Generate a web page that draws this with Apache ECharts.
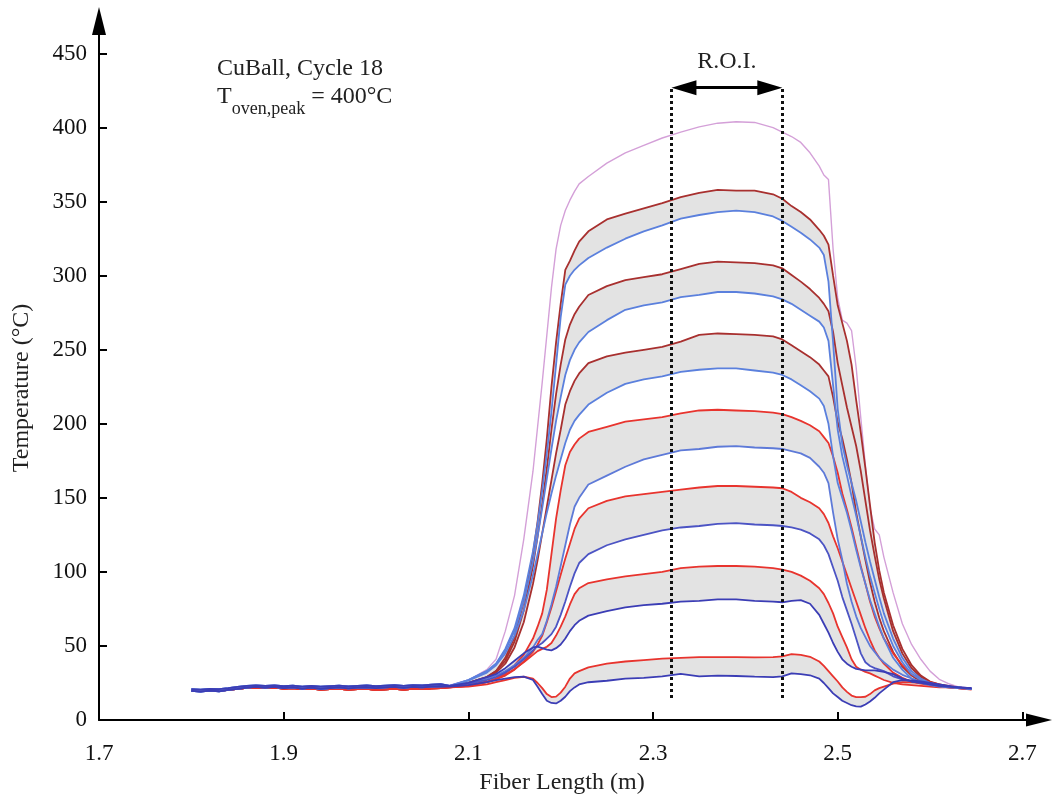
<!DOCTYPE html>
<html><head><meta charset="utf-8">
<script src="https://cdn.jsdelivr.net/npm/echarts@6/dist/echarts.min.js"></script>
<style>html,body{margin:0;padding:0;background:#fff}#c{width:1055px;height:798px}</style>
</head><body><div id="c"></div>
<script>
const FONT = '"Liberation Serif","Times New Roman",serif';
const X_TICKS = [1.7, 1.9, 2.1, 2.3, 2.5, 2.7];
const Y_TICKS = [0, 50, 100, 150, 200, 250, 300, 350, 400, 450];

// flat part before the oven (shared by all traces)
const BASE_X = [1.80,1.81,1.82,1.83,1.84,1.85,1.86,1.87,1.88,1.89,1.90,1.91,1.92,1.93,1.94,1.95,1.96,1.97,1.98,1.99,2.00,2.01,2.02,2.03,2.04,2.05,2.06,2.07];
const BLUE_BASE_A = [19.6,19.2,19.9,19.4,20.3,21.0,21.9,22.4,21.8,22.3,21.5,22.0,21.2,21.8,21.1,21.6,22.0,21.3,21.9,22.1,21.5,22.0,22.3,21.7,22.4,22.0,22.6,22.8];
const BLUE_BASE_B = [20.8,20.5,21.0,20.9,21.5,22.3,23.0,23.4,23.1,23.3,22.8,23.2,22.6,23.0,22.5,22.9,23.2,22.7,23.1,23.3,22.8,23.2,23.5,23.0,23.6,23.3,23.8,24.2];
const RED_BASE = [19.8,19.6,20.0,19.7,20.4,21.0,21.7,22.0,21.6,21.9,21.2,21.5,20.9,21.2,20.6,20.9,21.0,20.5,20.8,21.0,20.4,20.7,21.0,20.6,21.1,20.9,21.3,21.6];

// heated part
const X = [2.08,2.10,2.12,2.13,2.14,2.15,2.16,2.17,2.175,2.18,2.185,2.19,2.195,2.20,2.205,2.21,2.215,2.22,2.23,
  2.25,2.27,2.29,2.31,2.33,2.35,2.37,2.39,2.41,2.43,2.44,2.45,2.46,2.47,2.48,
  2.485,2.49,2.495,2.50,2.505,2.51,2.515,2.52,2.525,2.53,2.535,2.54,2.545,2.55,2.56,2.57,2.58,2.59,2.60,2.61,2.62,2.63,2.645];

const OVEN = [23.5,27,34,41,60,84,122,168,198,228,260,292,318,334,344,351,357,362,367,
  376,383,388,393,397,400.5,403,404,403.5,400,397,394,390,383,374,
  368,365,318,285,270,268,263,238,204,172,143,129,125,110,86,65,51,41,33,27.5,24.5,22.5,21.5];

const RED_1 = [22.5,25,29,33,42,56,80,112,134,160,190,225,255,281,304,310,317,323,330,
  338,342,345.5,349,353,356,358,357.5,357.5,355,352,347,343,338,331,
  327,321,300,280,268,256,240,216,194,170,145,120,101,86,64,48,37,30,26,24,23,22,21];
const BLUE_1 = [23,27,33,38,48,62,84,114,133,155,180,208,240,272,294,300,304,307,312,
  319,325,330,334,338.5,341,343,344,343,340,337,333,329,324.5,319,
  314,296,255,210,186,172,160,148,134,120,107,95,83,72,55,42,33,28,25,23.5,22.5,22,21];
const RED_2 = [22.5,25,29,33,40,53,74,104,124,146,170,196,220,240,257,267,274,279,287,
  293,297,299,301,304.5,308,309.5,309,308.5,307,305,300.5,296,291,285,
  281,276,262,241,226,211,198,185,168,148,128,111,95,82,60,45,35,29,25.5,23.5,22.5,22,21];
const BLUE_2 = [23,27,33,38,47,60,80,107,124,143,163,183,202,218,233,243,250,255,262,
  270,277,280,282,285.5,287,289,289,288,286,284,281,277,273,269,
  265,256,226,196,178,165,151,138,124,110,97,86,75,65,50,39,31,27,24.5,23,22.5,22,21];
const RED_3 = [22.5,24.5,28,32,38,49,66,92,108,126,144,162,180,196,213,222,229,234,241,
  245.5,248,250,252,255.5,260,261,260.5,260,259,257,253,249,245,240,
  236,232,218,201,190,176,160,140,124,108,93,80,69,60,46,36,30,26,24,23,22,21.5,21];
const BLUE_3 = [23,26.5,32,37,45,57,74,98,112,126,140,153,165,176,187,196,202,206,213,
  221,227,230,232,235,236.5,237.5,237.5,236,234.5,233,230,226,222,217,
  212,200,178,160,150,140,128,115,103,92,81,72,63,55,42,34,28,25,23.5,22.5,22,21.5,21];
const RED_4 = [22,23.5,26,28,31.5,37,44,55,63,72,88,112,136,155,172,181,186,190,194.5,
  198,201.5,203,204.5,207,209,209.5,209,208.5,207.5,206.5,204.5,202,199,195,
  191,187,178,167,153,142,130,117,104,92,80,70,62,55,45,37,31,27.5,25.5,24,22.5,21.5,21];
const BLUE_4 = [23,25,28,30,33,37,42,49,54,58,67,78,90,104,118,132,144,150,159,
  165,171,176,179,182,183,184.5,185,184,183.5,183,181.5,180,177,171,
  167,160,140,122,108,92,80,70,62,56,50,46,42,39,34,30.5,28,26,24.5,23.5,22.5,22,21];
const RED_5 = [22,23,25.5,27.5,30,34,39.5,46,51,57,66,76,87,98,109,119,129,136,143,
  148,151,152.5,154,155.5,157,158,158,157.5,157,156.5,154,150,147,143,
  139,133,124,116,107,98,89,80,71,62,54,47,42,38,32,28.5,26,24.5,23.5,22.5,22,21.5,21];
const BLUE_5 = [23,24.5,27,29,32,36,41,47,50,52,55,58,63,71,80,90,99,106,112,
  118,122,125,128,130,131,132.5,133,132,131.5,131,130,128.5,126,122,
  118,112,103,94,83,74,65,55,45,39,36.5,35,34,33,29.5,27.5,26,25,24,23,22.5,22,21];
const RED_6 = [22,23,25.5,27.5,30.5,34.5,39,44,46.5,48,49.5,52,57,63,70,78,85,89,92.5,
  95,97,98.5,100,102.5,103.5,104,104,103.5,102.5,101.5,100,97.5,94,89,
  85,79,72,63,56,49,41,36,34,32.5,31.5,30,28.5,27,25,24,23.5,23,22.5,22,22,21.5,21];
const BLUE_6 = [23,25,29,31,35,40,45,49,49.5,48.5,47.5,47,48.5,51,55,60,64,67,70.5,
  73.5,76,77.5,78.5,80,80.5,81.5,81.5,80.5,80,79.5,80.5,81,78.5,71,
  65,59,52,46,41,38,36,34.5,34,33.5,33.5,33.5,33,32.5,31,28,26,25,24,23,22.5,22,21.5];
const RED_7 = [22,22.5,24,25.5,27,28.5,29.2,28,25,21.5,17.5,15.5,15.8,18.5,22.5,28,31.5,33,35.5,
  38,39.5,40.5,41.5,42,42.5,42.5,42.5,42.3,42.5,43,44.5,44,42.7,39.5,
  36.5,33,29.5,26,22,19,16.5,15.5,15.5,15.7,17.5,20,21.5,22.5,24.5,25.5,25.5,25,24,23.5,22.5,21.5,20.5];
const BLUE_7 = [22.5,23.5,25.5,27,28,29,29.3,27,22.5,17.5,13,11.5,11.2,13,15.7,19.5,22,24,25.5,
  26.5,28,28.5,29.5,31.2,29.5,30,29.7,29.3,29,29.5,31.5,31,30.2,28,
  25,21.5,18,15.5,13,11.5,10,9.2,9,10.5,12.5,15,18,20.5,25.5,27,26.8,26,25,24,23,22,21.5];

// region of interest
const ROI_START = 2.32, ROI_END = 2.44, ROI_BOTTOM = 14.8, ROI_TOP = 428, ROI_ARROW = 427;

const ALL_X = BASE_X.concat(X);
function pts(base, ys) { const v = base.concat(ys); return ALL_X.map((x, i) => [x, v[i]]); }

const DARK_RED = '#a8302f', RED = '#e8342e', LIGHT_BLUE = '#5b80dd', MID_BLUE = '#5e7ad8', BLUE = '#4c54c4', DARK_BLUE = '#3b3db5';
const pairs = [
  {r: RED_1, b: BLUE_1, rc: DARK_RED, bc: LIGHT_BLUE, bb: BLUE_BASE_A},
  {r: RED_2, b: BLUE_2, rc: DARK_RED, bc: LIGHT_BLUE, bb: BLUE_BASE_B},
  {r: RED_3, b: BLUE_3, rc: DARK_RED, bc: LIGHT_BLUE, bb: BLUE_BASE_A},
  {r: RED_4, b: BLUE_4, rc: RED, bc: MID_BLUE, bb: BLUE_BASE_B},
  {r: RED_5, b: BLUE_5, rc: RED, bc: BLUE, bb: BLUE_BASE_A},
  {r: RED_6, b: BLUE_6, rc: RED, bc: DARK_BLUE, bb: BLUE_BASE_B},
  {r: RED_7, b: BLUE_7, rc: RED, bc: DARK_BLUE, bb: BLUE_BASE_A}
].map(p => ({...p, rp: pts(RED_BASE, p.r), bp: pts(p.bb, p.b)}));

const series = [];
series.push({
  type: 'custom', z: 1, silent: true, animation: false,
  data: pairs.map((p, i) => [2.3, 200, i]),
  encode: {x: 0, y: 1},
  renderItem: (params, api) => {
    const p = pairs[api.value(2)];
    const top = p.rp.map(d => api.coord(d));
    const bot = p.bp.map(d => api.coord(d)).reverse();
    return {type: 'polygon', shape: {points: top.concat(bot)}, style: {fill: '#e3e3e3', stroke: null}};
  }
});
function lineSeries(data, color, w) {
  return {type: 'line', data, showSymbol: false, symbol: 'none', z: 2, silent: true, animation: false,
    lineStyle: {color, width: w}};
}
series.push(lineSeries(pts(BLUE_BASE_A, OVEN), '#d4a0d8', 1.4));
pairs.forEach(p => series.push(lineSeries(p.rp, p.rc, 1.8)));
pairs.forEach(p => series.push(lineSeries(p.bp, p.bc, 1.8)));

// ROI dotted boundaries
series.push({
  type: 'line', data: [], z: 5, silent: true, animation: false,
  markLine: {silent: true, animation: false, symbol: ['none', 'none'], label: {show: false},
    lineStyle: {color: '#111', type: 'dotted', width: 3},
    data: [
      [{coord: [ROI_START, ROI_BOTTOM]}, {coord: [ROI_START, ROI_TOP]}],
      [{coord: [ROI_END, ROI_BOTTOM]}, {coord: [ROI_END, ROI_TOP]}]
    ]}
});
// ROI double arrow
const HEAD = 0.0135;
series.push({
  type: 'line', data: [], z: 6, silent: true, animation: false,
  markLine: {silent: true, animation: false, symbol: ['triangle', 'triangle'], symbolSize: [15, 25],
    lineStyle: {color: '#000', type: 'solid', width: 3},
    label: {show: true, position: 'middle', formatter: 'R.O.I.', fontFamily: FONT, fontSize: 24, color: '#222', distance: 14},
    data: [[{coord: [ROI_START + HEAD, ROI_ARROW]}, {coord: [ROI_END - HEAD, ROI_ARROW]}]]}
});

function tw(text, size) {
  const c = document.createElement('canvas').getContext('2d');
  c.font = size + 'px "Liberation Serif"';
  return c.measureText(text).width;
}
const AX = 217, FS = 24, SUB = 18;
const wT = tw('T', FS), wSub = tw('oven,peak', SUB);

const chart = echarts.init(document.getElementById('c'), null, {renderer: 'canvas'});
chart.setOption({
  backgroundColor: '#fff',
  animation: false,
  grid: {left: 99, right: 16, top: 21, bottom: 78, containLabel: false, outerBoundsMode: 'none'},
  xAxis: {
    type: 'value', min: 1.7, max: 2.718,
    axisLine: {show: true, onZero: false, symbol: ['none', 'triangle'], symbolSize: [13, 26], lineStyle: {color: '#000', width: 2}},
    axisTick: {show: true, inside: true, length: 8, customValues: X_TICKS, lineStyle: {color: '#000', width: 2}},
    axisLabel: {customValues: X_TICKS, fontFamily: FONT, fontSize: 23, color: '#111', margin: 22, formatter: v => v.toFixed(1)},
    splitLine: {show: false}
  },
  yAxis: {
    type: 'value', min: 0, max: 472,
    axisLine: {show: true, onZero: false, symbol: ['none', 'triangle'], symbolSize: [14, 28], lineStyle: {color: '#000', width: 2}},
    axisTick: {show: true, inside: true, length: 8, customValues: Y_TICKS, lineStyle: {color: '#000', width: 2}},
    axisLabel: {customValues: Y_TICKS, fontFamily: FONT, fontSize: 23, color: '#111', margin: 12},
    splitLine: {show: false}
  },
  graphic: [
    {type: 'text', left: AX, top: 57, style: {text: 'CuBall, Cycle 18', font: FS + 'px ' + FONT, fill: '#222'}},
    {type: 'text', left: AX, top: 85, style: {text: 'T', font: FS + 'px ' + FONT, fill: '#222'}},
    {type: 'text', left: AX + wT, top: 100, style: {text: 'oven,peak', font: SUB + 'px ' + FONT, fill: '#222'}},
    {type: 'text', left: AX + wT + wSub, top: 85, style: {text: ' = 400°C', font: FS + 'px ' + FONT, fill: '#222'}},
    {type: 'text', x: 562, y: 783, style: {text: 'Fiber Length (m)', font: FS + 'px ' + FONT, fill: '#222', align: 'center', verticalAlign: 'middle'}},
    {type: 'text', x: 22, y: 388, rotation: Math.PI / 2, style: {text: 'Temperature (°C)', font: FS + 'px ' + FONT, fill: '#222', align: 'center', verticalAlign: 'middle'}}
  ],
  series
});
</script></body></html>
